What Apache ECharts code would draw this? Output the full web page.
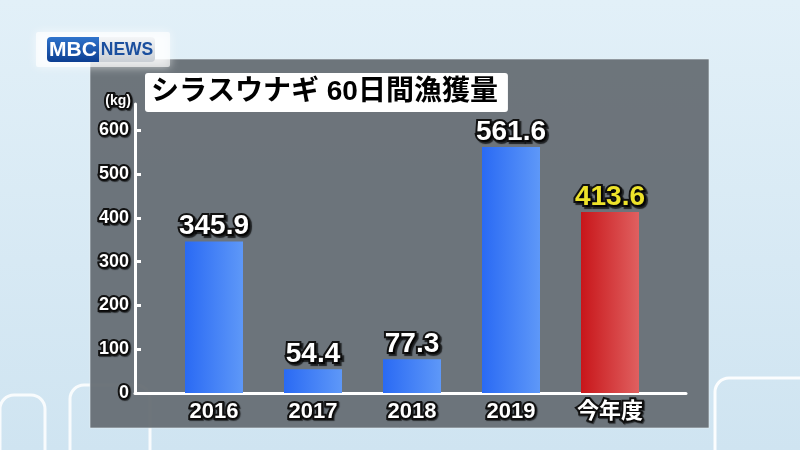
<!DOCTYPE html>
<html><head><meta charset="utf-8">
<script src="https://cdn.jsdelivr.net/npm/echarts@6/dist/echarts.min.js"></script>
<style>html,body{margin:0;padding:0;}#c{width:800px;height:450px;}</style>
</head><body><div id="c"></div>
<script>
const categories = ['2016', '2017', '2018', '2019', '今年度'];
const catchKg = [345.9, 54.4, 77.3, 561.6, 413.6];
const yTicks = [0, 100, 200, 300, 400, 500, 600];
const titleText = 'シラスウナギ 60日間漁獲量';
const unitText = '(kg)';

const FONT = "'Liberation Sans','Noto Sans CJK JP',sans-serif";
const blue = new echarts.graphic.LinearGradient(0,0,1,0,[{offset:0,color:'#2a6af4'},{offset:1,color:'#5e98f8'}]);
const red = new echarts.graphic.LinearGradient(0,0,1,0,[{offset:0,color:'#c8161a'},{offset:1,color:'#e06060'}]);

const outline = {textBorderColor:'#111', textBorderWidth:4, textShadowColor:'rgba(0,0,0,0.6)', textShadowOffsetX:1, textShadowOffsetY:1, textShadowBlur:1};

const chart = echarts.init(document.getElementById('c'), null, {renderer:'canvas'});
chart.setOption({
  backgroundColor: new echarts.graphic.LinearGradient(0,0,0,1,[{offset:0,color:'#e2f0f8'},{offset:1,color:'#cfe4f1'}]),
  animation:false,
  graphic:[
    {type:'rect', z:-10, shape:{x:0,y:395,width:45,height:80,r:14}, style:{fill:'none',stroke:'rgba(255,255,255,0.85)',lineWidth:3}},
    {type:'rect', z:-10, shape:{x:70,y:385,width:80,height:90,r:14}, style:{fill:'none',stroke:'rgba(255,255,255,0.85)',lineWidth:3}},
    {type:'rect', z:-10, shape:{x:715,y:378,width:120,height:100,r:14}, style:{fill:'none',stroke:'rgba(255,255,255,0.9)',lineWidth:3}},
    {type:'rect', z:-9, shape:{x:90,y:59,width:619,height:369}, style:{fill:'rgba(102,110,116,0.95)',stroke:'rgba(230,240,245,0.6)',lineWidth:1}},
    {type:'rect', z:-8, shape:{x:36,y:32,width:134,height:35,r:2}, style:{fill:'rgba(255,255,255,0.65)',shadowBlur:10,shadowColor:'rgba(255,255,255,0.95)'}},
    {type:'rect', z:-7, shape:{x:47,y:37,width:52,height:25,r:[4,0,0,4]}, style:{fill:new echarts.graphic.LinearGradient(0,0,0,1,[{offset:0,color:'#2f74cc'},{offset:1,color:'#0c3e91'}])}},
    {type:'rect', z:-7, shape:{x:99,y:37,width:56,height:25,r:[0,4,4,0]}, style:{fill:new echarts.graphic.LinearGradient(0,0,0,1,[{offset:0,color:'#f4f6f8'},{offset:1,color:'#c9ced4'}])}},
    {type:'text', z:-6, x:73, y:50, style:{text:'MBC', fill:'#fff', font:'bold 21px '+FONT, align:'center', verticalAlign:'middle'}},
    {type:'text', z:-6, x:127, y:50, style:{text:'NEWS', fill:'#1b4f9e', font:'bold 17.5px '+FONT, align:'center', verticalAlign:'middle'}}
  ],
  title:{
    text:titleText, left:145, top:73,
    backgroundColor:'#fff', borderRadius:3, padding:[2,10,2,6],
    textStyle:{color:'#000', fontSize:28, fontWeight:'bold', fontFamily:FONT, lineHeight:35}
  },
  grid:[
    {left:164.5, right:140.5, top:104, bottom:57},
    {left:135, right:114, top:104, bottom:57}
  ],
  xAxis:[
    {type:'category', gridIndex:0, data:categories,
     axisLine:{show:false}, axisTick:{show:false},
     axisLabel:{color:'#fff', fontSize:22, fontWeight:'bold', fontFamily:FONT, margin:8, ...outline}},
    {type:'value', gridIndex:1, min:0, max:1, axisLine:{show:true, lineStyle:{color:'#fff', width:3, cap:'round'}},
     axisTick:{show:false}, axisLabel:{show:false}, splitLine:{show:false}}
  ],
  yAxis:[
    {type:'value', gridIndex:0, min:0, max:660, interval:100, offset:29.5,
     name:unitText, nameLocation:'end', nameGap:2,
     nameTextStyle:{color:'#fff', fontSize:14, fontWeight:'bold', fontFamily:FONT, align:'right', verticalAlign:'bottom', padding:[0,4,-6,0], ...outline},
     axisLine:{show:true, lineStyle:{color:'#fff', width:3}},
     axisTick:{show:true, inside:true, length:6, lineStyle:{color:'#fff', width:3}, customValues:yTicks},
     axisLabel:{color:'#fff', fontSize:18, fontWeight:'bold', fontFamily:FONT, margin:6, customValues:yTicks, ...outline},
     splitLine:{show:false}},
    {type:'value', gridIndex:1, show:false, min:0, max:1}
  ],
  series:[{
    type:'bar', xAxisIndex:0, yAxisIndex:0, barWidth:58,
    data: catchKg.map((v,i)=>({
      value:v,
      itemStyle:{color: i===catchKg.length-1 ? red : blue},
      label:{color: i===catchKg.length-1 ? '#eee32a' : '#fff'}
    })),
    label:{show:true, position:'top', distance:1, fontSize:28, fontWeight:'bold', fontFamily:FONT,
      textBorderColor:'#111', textBorderWidth:4, textShadowColor:'rgba(0,0,0,0.7)', textShadowOffsetX:2, textShadowOffsetY:2, textShadowBlur:1}
  }]
});
</script></body></html>
